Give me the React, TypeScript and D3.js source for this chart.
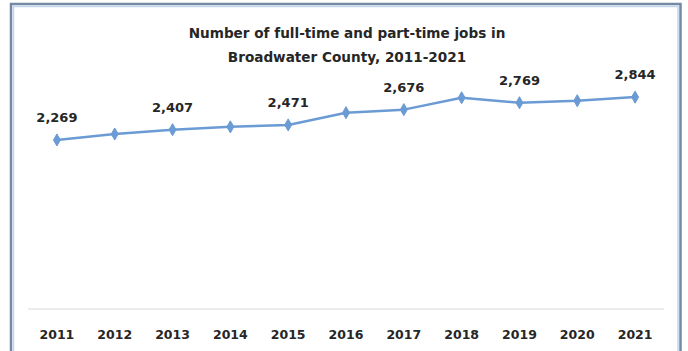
import React from "react";
import * as d3 from "d3";

const years = ["2011","2012","2013","2014","2015","2016","2017","2018","2019","2020","2021"];
const jobs = [2269, 2349, 2407, 2445, 2471, 2635, 2676, 2836, 2769, 2796, 2844];
const labeledYears = ["2011","2013","2015","2017","2019","2021"];
const titleLines = ["Number of full-time and part-time jobs in", "Broadwater County, 2011-2021"];

const W = 688, H = 351;
const FONT = "'DejaVu Sans', 'Liberation Sans', sans-serif";

export default function App() {
  const x = d3.scaleBand<string>().domain(years).range([28, 664]);
  const y = d3.scaleLinear().domain([0, 3000]).range([309, 85.5]);
  const cx = (yr: string) => (x(yr) as number) + x.bandwidth() / 2;
  const line = d3.line<number>().x((_, i) => cx(years[i])).y((v) => y(v));
  const diamond = d3.symbol().type(d3.symbolDiamond).size(42)() as string;

  return (
    <svg width={W} height={H} style={{ position: "absolute", left: 0, top: 0, background: "#fff" }}>
      <rect x={0} y={0} width={W} height={H} fill="#fff" />
      {/* frame */}
      <path d={`M11,${H} V4 H680.5 V${H}`} fill="none" stroke="#7489a6" strokeWidth={2.5} />
      <path d={`M13.5,${H} V6.5 H678 V${H}`} fill="none" stroke="#c3d5e8" strokeWidth={1.5} />
      {/* title */}
      {titleLines.map((t, i) => (
        <text key={i} x={347} y={38 + i * 23.5} textAnchor="middle" fontFamily={FONT} fontWeight={700} fontSize={13.6} fill="#262626">{t}</text>
      ))}
      {/* baseline */}
      <line x1={28} x2={664} y1={y(0)} y2={y(0)} stroke="#d9d9d9" strokeWidth={1} />
      {/* x labels */}
      {years.map((yr) => (
        <text key={yr} x={cx(yr)} y={338.5} textAnchor="middle" fontFamily={FONT} fontWeight={700} fontSize={12.5} fill="#262626">{yr}</text>
      ))}
      {/* line */}
      <path d={line(jobs) as string} fill="none" stroke="#6b9bd4" strokeWidth={2.5} strokeLinejoin="round" />
      {jobs.map((v, i) => (
        <path key={i} d={diamond} transform={`translate(${cx(years[i])},${y(v)})`} fill="#6b9bd4" stroke="#6b9bd4" strokeWidth={1} />
      ))}
      {/* data labels */}
      {jobs.map((v, i) =>
        labeledYears.includes(years[i]) ? (
          <text key={i} x={cx(years[i])} y={y(v) - 18} textAnchor="middle" fontFamily={FONT} fontWeight={700} fontSize={13} fill="#262626">{d3.format(",")(v)}</text>
        ) : null
      )}
    </svg>
  );
}
